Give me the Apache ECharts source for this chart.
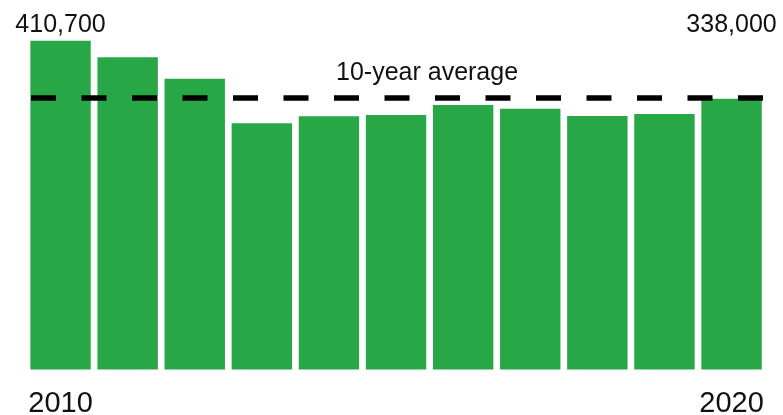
<!DOCTYPE html>
<html>
<head>
<meta charset="utf-8">
<script src="https://cdn.jsdelivr.net/npm/echarts@6/dist/echarts.min.js"></script>
<style>
html,body{margin:0;padding:0;background:#fff;}
#c{width:783px;height:415px;}
</style>
</head>
<body>
<div id="c"></div>
<script>
const years = ['2010','2011','2012','2013','2014','2015','2016','2017','2018','2019','2020'];
const values = [410700, 390000, 363200, 307500, 316300, 317900, 330400, 325800, 316600, 319100, 338000];
const averageValue = 339600;
const averageLabel = '10-year average';
const labeledIdx = [0, 10];

const FONT = '"Liberation Sans", Arial, sans-serif';
const fmt = v => v.toLocaleString('en-US');

const chart = echarts.init(document.getElementById('c'), null, {renderer: 'canvas'});

function buildData(lastOffset) {
  return values.map((v, i) => {
    const item = {value: v};
    if (labeledIdx.includes(i)) {
      item.label = {
        show: true,
        position: 'top',
        distance: 3.5,
        formatter: () => fmt(v),
        fontSize: 25,
        lineHeight: 25,
        color: '#111',
        fontFamily: FONT,
        offset: (i === labeledIdx[labeledIdx.length - 1]) ? [0, lastOffset] : [0, 0]
      };
    }
    return item;
  });
}

const option = {
  animation: false,
  backgroundColor: '#fff',
  grid: {left: 27, right: 17.9, top: 9.2, bottom: 45.5, containLabel: false, outerBoundsMode: 'none'},
  xAxis: {
    type: 'category',
    data: years,
    axisLine: {show: false},
    axisTick: {show: false},
    axisLabel: {
      interval: 0,
      margin: 20,
      fontSize: 29,
      lineHeight: 29,
      color: '#111',
      fontFamily: FONT,
      formatter: (v, i) => labeledIdx.includes(i) ? v : ''
    }
  },
  yAxis: {
    type: 'value',
    min: 0,
    max: 450000,
    show: false,
    splitLine: {show: false}
  },
  series: [{
    type: 'bar',
    data: buildData(0),
    barCategoryGap: '10%',
    itemStyle: {color: '#27a745'},
    markLine: {
      silent: true,
      symbol: ['none', 'none'],
      data: [{yAxis: averageValue}],
      lineStyle: {color: '#000', width: 5.5, type: [25, 25.5], dashOffset: 46.5, opacity: 1},
      label: {
        show: true,
        position: 'insideMiddleTop',
        formatter: averageLabel,
        distance: 12,
        offset: [31, 0],
        fontSize: 25,
        lineHeight: 25,
        color: '#111',
        fontFamily: FONT
      },
      emphasis: {disabled: true}
    }
  }]
};

chart.setOption(option);
const yTop = chart.convertToPixel({yAxisIndex: 0}, values[labeledIdx[0]]);
const yLast = chart.convertToPixel({yAxisIndex: 0}, values[labeledIdx[labeledIdx.length - 1]]);
chart.setOption({series: [{data: buildData(yTop - yLast)}]});
</script>
</body>
</html>
